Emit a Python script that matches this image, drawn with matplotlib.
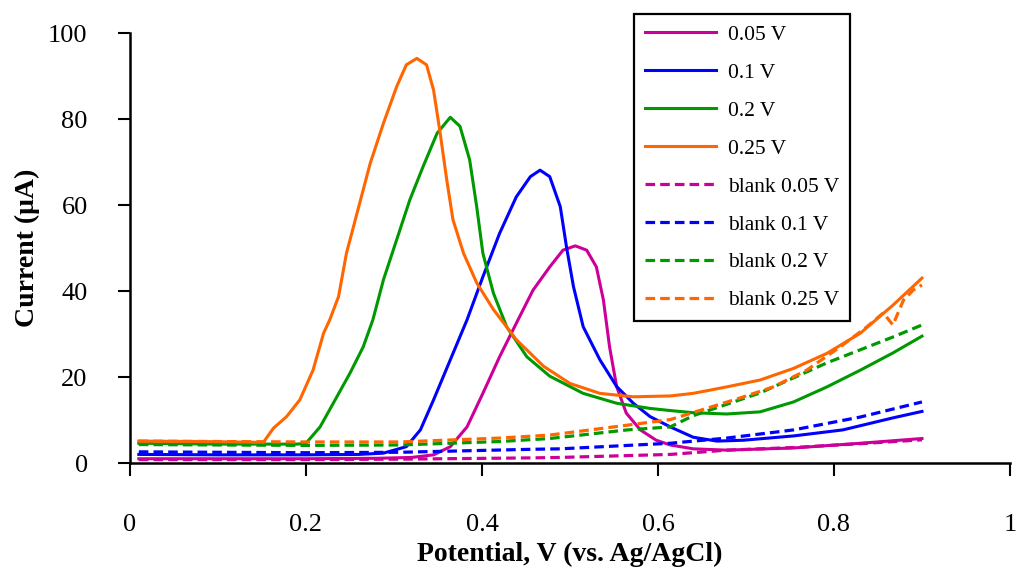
import matplotlib
matplotlib.use("Agg")
import matplotlib.pyplot as plt
from matplotlib.ticker import FuncFormatter

plt.rcParams['font.family'] = ['Liberation Serif', 'DejaVu Serif']

# Potential (V) / current (uA)
x_005 = [0.01, 0.10, 0.20, 0.28, 0.32, 0.345, 0.364, 0.383, 0.401, 0.42, 0.439, 0.458, 0.477,
         0.492, 0.506, 0.519, 0.53, 0.538, 0.545, 0.553, 0.564, 0.58, 0.598, 0.614, 0.64,
         0.678, 0.754, 0.83, 0.9]
y_005 = [1.0, 1.0, 1.0, 1.1, 1.3, 1.9, 3.8, 8.4, 16.2, 24.7, 32.5, 40.2, 45.6,
         49.5, 50.5, 49.5, 45.6, 37.9, 27.0, 17.8, 11.6, 7.7, 5.3, 4.2, 3.3,
         3.0, 3.5, 4.6, 5.7]

x_01 = [0.01, 0.10, 0.20, 0.26, 0.288, 0.314, 0.33, 0.345, 0.364, 0.383, 0.401, 0.42, 0.439,
        0.455, 0.466, 0.477, 0.489, 0.496, 0.504, 0.515, 0.534, 0.553, 0.572, 0.591, 0.614,
        0.64, 0.667, 0.697, 0.754, 0.81, 0.867, 0.9]
y_01 = [2.0, 1.9, 1.9, 2.0, 2.3, 3.8, 7.7, 14.7, 24.0, 33.3, 43.3, 53.4, 61.9,
        66.6, 68.1, 66.6, 59.6, 50.3, 41.0, 31.7, 24.0, 17.8, 13.9, 10.8, 8.4,
        6.0, 5.1, 5.3, 6.3, 7.7, 10.5, 12.0]

x_02 = [0.01, 0.10, 0.19, 0.20, 0.216, 0.231, 0.25, 0.265, 0.276, 0.288, 0.303, 0.318, 0.333,
        0.349, 0.364, 0.375, 0.386, 0.394, 0.401, 0.413, 0.428, 0.451, 0.477, 0.515, 0.553,
        0.591, 0.614, 0.64, 0.678, 0.716, 0.754, 0.792, 0.83, 0.867, 0.9]
y_02 = [4.6, 4.4, 4.4, 4.6, 8.4, 13.9, 20.9, 27.0, 33.3, 42.6, 51.9, 61.2, 68.9,
        76.7, 80.4, 78.3, 70.5, 59.6, 48.8, 39.5, 31.7, 24.7, 20.2, 16.2, 13.9,
        12.7, 12.2, 11.7, 11.4, 11.9, 14.2, 17.7, 21.6, 25.6, 29.5]

x_025 = [0.01, 0.08, 0.1515, 0.163, 0.178, 0.193, 0.208, 0.22, 0.227, 0.237, 0.246, 0.258, 0.273,
         0.288, 0.303, 0.314, 0.326, 0.337, 0.345, 0.352, 0.36, 0.367, 0.379, 0.394, 0.413,
         0.439, 0.47, 0.50, 0.534, 0.572, 0.614, 0.64, 0.678, 0.716, 0.754, 0.792, 0.83,
         0.867, 0.9]
y_025 = [5.1, 5.0, 4.8, 8.1, 10.8, 14.7, 21.6, 30.2, 33.3, 38.7, 48.8, 58.1, 69.7,
         79.0, 87.5, 92.6, 94.1, 92.6, 86.7, 77.4, 65.8, 56.6, 48.8, 41.9, 35.7,
         28.7, 22.5, 18.5, 16.2, 15.4, 15.6, 16.2, 17.7, 19.3, 22.0, 25.5, 30.2,
         36.7, 43.0]

xb_005 = [0.01, 0.10, 0.20, 0.307, 0.458, 0.489, 0.614, 0.678, 0.754, 0.83, 0.9]
yb_005 = [0.8, 0.8, 0.8, 0.9, 1.2, 1.3, 2.0, 3.0, 3.6, 4.5, 5.4]

xb_01 = [0.01, 0.10, 0.20, 0.307, 0.458, 0.489, 0.614, 0.678, 0.754, 0.83, 0.9]
yb_01 = [2.6, 2.5, 2.4, 2.5, 3.2, 3.3, 4.6, 5.8, 7.7, 10.7, 14.2]

xb_02 = [0.01, 0.10, 0.20, 0.307, 0.42, 0.477, 0.565, 0.614, 0.64, 0.716, 0.792, 0.867, 0.9]
yb_02 = [4.3, 4.2, 4.1, 4.2, 5.0, 5.7, 7.7, 8.4, 11.0, 16.3, 23.3, 29.3, 32.1]

xb_025 = [0.01, 0.10, 0.20, 0.307, 0.42, 0.477, 0.565, 0.614, 0.693, 0.731, 0.769, 0.807,
          0.837, 0.856, 0.867, 0.879, 0.89, 0.9]
yb_025 = [5.1, 5.0, 4.9, 4.9, 5.8, 6.5, 8.8, 10.1, 15.1, 17.7, 21.6, 27.0,
          31.6, 34.9, 32.1, 37.9, 40.2, 41.4]

labels = ['0.05 V', '0.1 V', '0.2 V', '0.25 V',
          'blank 0.05 V', 'blank 0.1 V', 'blank 0.2 V', 'blank 0.25 V']
colors = ['#CC0099', '#0000FF', '#009900', '#FF6600']

fig = plt.figure(figsize=(10.18, 5.79), dpi=100)
ax = fig.add_axes([0.1277, 0.2003, 0.8644, 0.7427])

solid = [(x_005, y_005), (x_01, y_01), (x_02, y_02), (x_025, y_025)]
blank = [(xb_005, yb_005), (xb_01, yb_01), (xb_02, yb_02), (xb_025, yb_025)]

for (xs, ys), c, lab in zip(solid, colors, labels[:4]):
    ax.plot(xs, ys, color=c, linewidth=2.2, label=lab, solid_joinstyle='round')
for (xs, ys), c, lab in zip(blank, colors, labels[4:]):
    ax.plot(xs, ys, color=c, linewidth=2.3, linestyle=(0, (3, 1.6)), label=lab)

ax.set_xlim(0, 1)
ax.set_ylim(0, 100)
ax.set_xticks([0, 0.2, 0.4, 0.6, 0.8, 1.0])
ax.set_yticks([0, 20, 40, 60, 80, 100])
ax.xaxis.set_major_formatter(FuncFormatter(lambda v, p: f'{v:g}'))

for s in ['top', 'right']:
    ax.spines[s].set_visible(False)
for s in ['left', 'bottom']:
    ax.spines[s].set_linewidth(1.8)

ax.tick_params(axis='y', direction='out', length=8.5, width=1.5, pad=22, labelsize=19)
ax.tick_params(axis='x', direction='out', length=9.5, width=1.5, pad=27, labelsize=19)

ax.set_xlabel('Potential, V (vs. Ag/AgCl)', fontsize=20, fontweight='bold')
ax.set_ylabel('Current (μA)', fontsize=20, fontweight='bold')
ax.xaxis.set_label_coords(0.5, -0.213)
ax.xaxis.label.set_va('center')
ax.yaxis.set_label_coords(-0.117, 0.5)
ax.yaxis.label.set_va('center')

leg = ax.legend(loc='upper left', bbox_to_anchor=(634 / 1018, 1 - 14 / 579),
                bbox_transform=fig.transFigure, fontsize=15.5, frameon=True,
                fancybox=False, edgecolor='black', framealpha=1,
                handlelength=3.3, handletextpad=0.55, labelspacing=0.83,
                borderpad=0.5, borderaxespad=0)
leg.get_frame().set_linewidth(1.6)

fig.savefig('out.png', dpi=100)
